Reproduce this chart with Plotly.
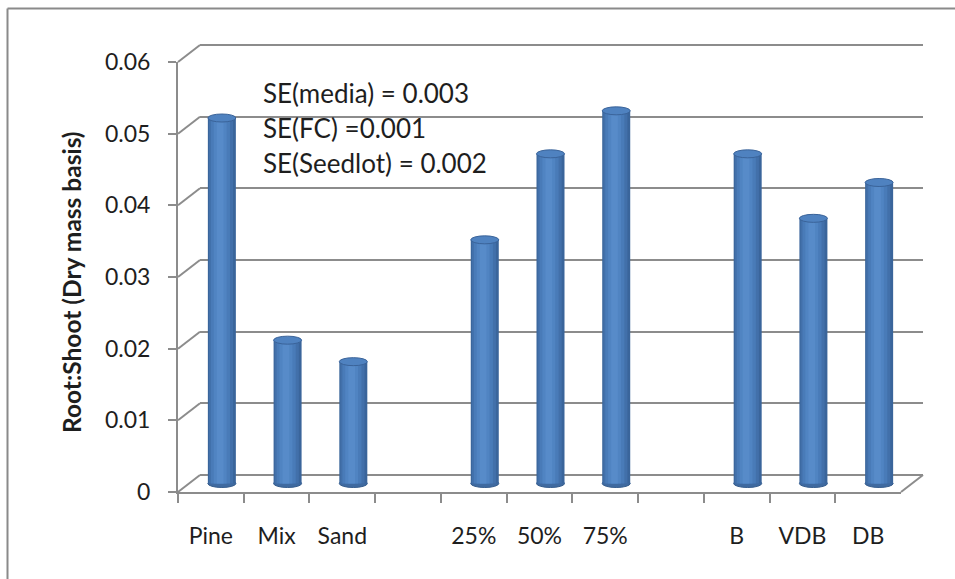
import plotly.graph_objects as go

# ---------------- data ----------------
categories = ["Pine", "Mix", "Sand", " ", "25%", "50%", "75%", "  ", "B", "VDB", "DB"]
values = [0.051, 0.020, 0.017, None, 0.034, 0.046, 0.052, None, 0.046, 0.037, 0.042]
y_ticks = [0, 0.01, 0.02, 0.03, 0.04, 0.05, 0.06]
se_notes = ["SE(media) = 0.003", "SE(FC) =0.001", "SE(Seedlot) = 0.002"]
y_title = "Root:Shoot (Dry mass basis)"

# ---------------- geometry (pixels) ----------------
W, H = 955, 579
FX0, FX1 = 178, 901          # front plane x extent
FY0, FY1 = 492, 62           # front plane y for 0 and 0.06
DX, DY = 22, -17             # depth offset to back wall
K = (FY0 - FY1) / 0.06       # px per unit

def px(x):
    return x / W

def py(y):
    return 1 - y / H

GRID = "#8c8c8c"
FONT = "Lato"
TXT = "#1e1e1e"
NC = len(categories)

fig = go.Figure()

# back wall (gridlines) axis: x2/y2, range extended slightly
e2 = 0.001
fig.add_trace(go.Scatter(x=[None], y=[None], xaxis="x2", yaxis="y2",
                         showlegend=False, hoverinfo="skip"))

# bars on mid-depth axis x3/y3
e3 = 0.003
MX, MY = DX / 2, DY / 2
bw = 28 / ((FX1 - FX0) / NC)   # bar width in category units
layers = [
    (1.00, 0.00, "#3a659b"),
    (0.86, -0.03, "#4270aa"),
    (0.68, -0.05, "#497bb8"),
    (0.46, -0.06, "#5084c2"),
    (0.24, -0.06, "#578bc9"),
]
for frac, shift, col in layers:
    w = bw * frac
    fig.add_trace(go.Bar(
        x=categories, y=values, xaxis="x3", yaxis="y3",
        width=w, offset=-w / 2 + shift * bw,
        marker=dict(color=col, line=dict(width=0)),
        showlegend=False, hoverinfo="skip",
    ))

# invisible trace on front axis so it renders
fig.add_trace(go.Scatter(x=categories, y=[None] * NC,
                         xaxis="x", yaxis="y", showlegend=False, hoverinfo="skip"))

shapes = []
ry = 4.0 / K
for i, v in enumerate(values):
    if v is None:
        continue
    x0, x1 = i - bw / 2, i + bw / 2
    # bottom ellipse
    shapes.append(dict(type="circle", xref="x3", yref="y3", x0=x0, x1=x1,
                       y0=-ry, y1=ry, fillcolor="#3f6aa0",
                       line=dict(color="#365d8d", width=1), layer="below"))
    # top ellipse
    shapes.append(dict(type="circle", xref="x3", yref="y3", x0=x0, x1=x1,
                       y0=v - ry, y1=v + ry, fillcolor="#4f82c0",
                       line=dict(color="#3a6399", width=1), layer="above"))

# left wall diagonals and floor right edge
for t in y_ticks:
    yv = FY0 - t * K
    shapes.append(dict(type="line", xref="paper", yref="paper",
                       x0=px(FX0), y0=py(yv), x1=px(FX0 + DX), y1=py(yv + DY),
                       line=dict(color=GRID, width=2)))
shapes.append(dict(type="line", xref="paper", yref="paper",
                   x0=px(FX1), y0=py(FY0), x1=px(FX1 + DX), y1=py(FY0 + DY),
                   line=dict(color=GRID, width=2)))
# outer frame (left and top)
shapes.append(dict(type="line", xref="paper", yref="paper",
                   x0=px(7.5), y0=py(8.5), x1=px(7.5), y1=0,
                   line=dict(color="#8a8a8a", width=2)))
shapes.append(dict(type="line", xref="paper", yref="paper",
                   x0=px(7.5), y0=py(8.5), x1=1, y1=py(8.5),
                   line=dict(color="#8a8a8a", width=2)))

annotations = []
for k, s in enumerate(se_notes):
    annotations.append(dict(text=s, xref="paper", yref="paper",
                            x=px(261), y=py(93 + 35 * k), xanchor="left",
                            yanchor="middle", showarrow=False,
                            font=dict(family=FONT, size=26, color=TXT)))
annotations.append(dict(text="<b>" + y_title + "</b>", xref="paper", yref="paper",
                        x=px(71), y=py(282), textangle=-90, showarrow=False,
                        xanchor="center", yanchor="middle",
                        font=dict(family=FONT, size=24.5, color=TXT)))

fig.update_layout(
    width=W, height=H,
    margin=dict(l=0, r=0, t=0, b=0, pad=0, autoexpand=False),
    paper_bgcolor="white", plot_bgcolor="rgba(0,0,0,0)",
    barmode="overlay",
    showlegend=False,
    shapes=shapes, annotations=annotations,
    font=dict(family=FONT, size=23, color=TXT),
    xaxis=dict(domain=[px(FX0), px(FX1)], anchor="y", type="category",
               categoryorder="array", categoryarray=categories,
               range=[-0.5, NC - 0.5],
               tickson="boundaries", ticks="outside", ticklen=9, tickwidth=2,
               tickcolor=GRID, showline=True, linecolor=GRID, linewidth=2,
               showgrid=False, ticklabelstandoff=22, automargin=False,
               tickfont=dict(family=FONT, size=23, color=TXT), fixedrange=True),
    yaxis=dict(domain=[py(FY0), py(FY1)], anchor="x", range=[0, 0.06],
               tickvals=y_ticks, ticks="outside", ticklen=8, tickwidth=2,
               tickcolor=GRID, showline=True, linecolor=GRID, linewidth=2,
               showgrid=False, zeroline=False, ticklabelstandoff=13,
               automargin=False,
               tickfont=dict(family=FONT, size=23, color=TXT), fixedrange=True),
    xaxis2=dict(domain=[px(FX0 + DX), px(FX1 + DX)], anchor="y2", visible=False,
                range=[0, 1], fixedrange=True, automargin=False),
    yaxis2=dict(domain=[py(FY0 + DY + e2 * K), py(FY1 + DY - e2 * K)], anchor="x2",
                range=[-e2, 0.06 + e2], tickvals=y_ticks, showticklabels=False,
                ticks="", showgrid=True, gridcolor=GRID, gridwidth=2,
                zeroline=False, showline=False, fixedrange=True, automargin=False),
    xaxis3=dict(domain=[px(FX0 + MX), px(FX1 + MX)], anchor="y3", visible=False,
                type="category", categoryorder="array", categoryarray=categories,
                range=[-0.5, NC - 0.5], fixedrange=True,
                automargin=False),
    yaxis3=dict(domain=[py(FY0 + MY + e3 * K), py(FY1 + MY - e3 * K)], anchor="x3",
                range=[-e3, 0.06 + e3], visible=False, fixedrange=True,
                automargin=False),
)

fig.write_html("out.html")
